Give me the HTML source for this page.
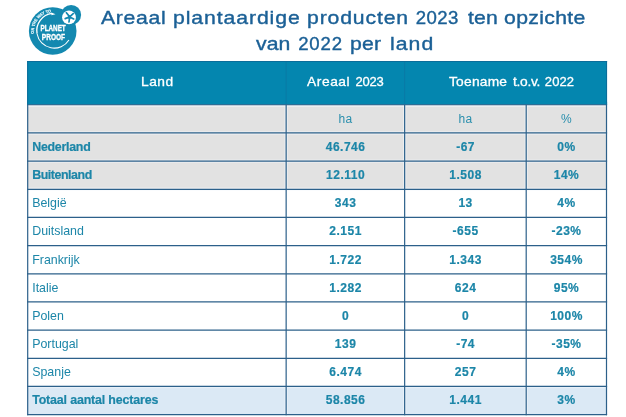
<!DOCTYPE html>
<html lang="nl">
<head>
<meta charset="utf-8">
<title>Areaal plantaardige producten 2023</title>
<style>
html,body{margin:0;padding:0;background:#fff;}
body{width:626px;height:417px;position:relative;overflow:hidden;font-family:"Liberation Sans",sans-serif;}
.abs{position:absolute;}
.t{position:absolute;white-space:nowrap;line-height:1;}
.title{color:#1b6096;font-size:18.6px;-webkit-text-stroke:0.38px #1b6096;}
.hd{color:#fff;font-size:13px;-webkit-text-stroke:0.3px #fff;}
.c{color:#1c86a8;font-size:12px;letter-spacing:0.5px;}
.b{font-weight:bold;-webkit-text-stroke:0.2px #1c86a8;}
.l{color:#1c86a8;font-size:12.4px;}
.sub{font-size:12px;color:#2a8fad;}

</style>
</head>
<body>
<svg class="abs" style="left:0;top:0" width="626" height="417" viewBox="0 0 626 417">
<rect x="27.10" y="61.00" width="580.00" height="43.77" fill="#0486af"/>
<rect x="27.10" y="104.77" width="580.00" height="28.17" fill="#e2e2e2"/>
<rect x="27.10" y="132.94" width="580.00" height="28.17" fill="#e2e2e2"/>
<rect x="27.10" y="161.11" width="580.00" height="28.17" fill="#e2e2e2"/>
<rect x="27.10" y="386.47" width="580.00" height="28.17" fill="#dbe9f5"/>
<g stroke="#f6fafd" stroke-opacity="0.5" stroke-width="3.4" fill="none">
<line x1="27.10" y1="105.37" x2="607.10" y2="105.37"/>
<line x1="27.10" y1="132.94" x2="607.10" y2="132.94"/>
<line x1="27.10" y1="161.11" x2="607.10" y2="161.11"/>
<line x1="27.10" y1="189.28" x2="607.10" y2="189.28"/>
<line x1="27.10" y1="386.47" x2="607.10" y2="386.47"/>
<line x1="286.15" y1="104.77" x2="286.15" y2="189.28"/>
<line x1="286.15" y1="386.47" x2="286.15" y2="414.64"/>
<line x1="404.65" y1="104.77" x2="404.65" y2="189.28"/>
<line x1="404.65" y1="386.47" x2="404.65" y2="414.64"/>
<line x1="526.20" y1="104.77" x2="526.20" y2="189.28"/>
<line x1="526.20" y1="386.47" x2="526.20" y2="414.64"/>
</g>
<rect x="27.10" y="101.77" width="580.00" height="3.00" fill="#0486af"/>
<g stroke="#2c608a" stroke-width="1.20" fill="none">
<line x1="27.10" y1="104.77" x2="607.10" y2="104.77"/>
<line x1="27.10" y1="132.94" x2="607.10" y2="132.94"/>
<line x1="27.10" y1="161.11" x2="607.10" y2="161.11"/>
<line x1="27.10" y1="189.28" x2="607.10" y2="189.28"/>
<line x1="27.10" y1="217.45" x2="607.10" y2="217.45"/>
<line x1="27.10" y1="245.62" x2="607.10" y2="245.62"/>
<line x1="27.10" y1="273.79" x2="607.10" y2="273.79"/>
<line x1="27.10" y1="301.96" x2="607.10" y2="301.96"/>
<line x1="27.10" y1="330.13" x2="607.10" y2="330.13"/>
<line x1="27.10" y1="358.30" x2="607.10" y2="358.30"/>
<line x1="27.10" y1="386.47" x2="607.10" y2="386.47"/>
<line x1="27.10" y1="414.64" x2="607.10" y2="414.64"/>
<line x1="27.70" y1="104.77" x2="27.70" y2="415.24"/>
<line x1="286.15" y1="104.77" x2="286.15" y2="415.24"/>
<line x1="404.65" y1="104.77" x2="404.65" y2="415.24"/>
<line x1="526.20" y1="104.77" x2="526.20" y2="415.24"/>
<line x1="606.50" y1="104.77" x2="606.50" y2="415.24"/>
</g>
<g stroke="#0b6d9a" stroke-width="1" fill="none">
<line x1="27.10" y1="61.50" x2="607.10" y2="61.50"/>
<line x1="27.70" y1="61.00" x2="27.70" y2="104.77"/>
<line x1="606.50" y1="61.00" x2="606.50" y2="104.77"/>
</g>
<g stroke="#0a7aa6" stroke-width="1" fill="none">
<line x1="286.15" y1="62.00" x2="286.15" y2="104.17"/>
<line x1="404.65" y1="62.00" x2="404.65" y2="104.17"/>
</g>
</svg>
<svg class="abs" style="left:0;top:0" width="100" height="60" viewBox="0 0 100 60" font-family="Liberation Sans, sans-serif">
<circle cx="52.7" cy="31" r="23.8" fill="#1489b0"/>
<circle cx="71.1" cy="14.9" r="10" fill="#1489b0"/>
<circle cx="69" cy="17.4" r="6.9" fill="#fff"/>
<g stroke="#1489b0" stroke-width="1.7" stroke-linecap="round" fill="none">
<path d="M69.7 16.9 L66.4 12.7 M69.7 16.9 L73.2 13.6 M69.7 16.9 L73.7 18.9 M69.7 16.9 L69 22 M69.7 16.9 L65.2 18.6"/>
</g>
<circle cx="69.7" cy="16.9" r="1.3" fill="#1489b0"/>
<path d="M52.08 13.43 A17.4 17.4 0 0 0 37.06 33.72" fill="none" stroke="#fff" stroke-width="1.35"/>
<path d="M37.06 33.72 A17.4 17.4 0 0 0 68.96 39.92" fill="none" stroke="#fff" stroke-width="1.05"/>
<path d="M51.4 12.6 L55.5 14.2 L51.4 15.3 Z" fill="#fff"/>
<path id="arcp" d="M34.18 33.60 A18.7 18.7 0 0 1 71.22 28.40" fill="none"/>
<text font-size="4.1" font-weight="bold" fill="#e6f6fb" stroke="#e6f6fb" stroke-width="0.2" textLength="30.3" lengthAdjust="spacingAndGlyphs"><textPath href="#arcp" startOffset="0" textLength="30.3" lengthAdjust="spacingAndGlyphs">ON THE WAY TO</textPath></text>
<g fill="#fff" font-weight="bold" font-size="9.6" stroke="#fff" stroke-width="0.38">
<text transform="translate(40.4,31.1) scale(0.661,1)">PLANET</text>
<text transform="translate(41.8,39.75) scale(0.683,1)">PROOF</text>
</g>
</svg>
<div class="abs" style="left:0;top:0;width:626px;height:60px">
<span class="t title" id="w1" style="left:101.40px;top:8.60px;letter-spacing:0.61px;transform:scaleX(1.14);transform-origin:0 0">Areaal</span>
<span class="t title" id="w2" style="left:173.15px;top:8.60px;letter-spacing:0.80px;transform:scaleX(1.14);transform-origin:0 0">plantaardige</span>
<span class="t title" id="w3" style="left:306.75px;top:8.60px;letter-spacing:0.75px;transform:scaleX(1.14);transform-origin:0 0">producten</span>
<span class="t title" id="w4" style="left:415.64px;top:8.60px;letter-spacing:0.49px">2023</span>
<span class="t title" id="w5" style="left:467.90px;top:8.60px;letter-spacing:0.12px;transform:scaleX(1.14);transform-origin:0 0">ten</span>
<span class="t title" id="w6" style="left:504.25px;top:8.60px;letter-spacing:0.30px;transform:scaleX(1.14);transform-origin:0 0">opzichte</span>
<span class="t title" id="v1" style="left:256.05px;top:34.50px;letter-spacing:0.07px;transform:scaleX(1.14);transform-origin:0 0">van</span>
<span class="t title" id="v2" style="left:298.16px;top:34.50px;letter-spacing:0.82px">2022</span>
<span class="t title" id="v3" style="left:349.75px;top:34.50px;letter-spacing:0.24px;transform:scaleX(1.14);transform-origin:0 0">per</span>
<span class="t title" id="v4" style="left:390.40px;top:34.50px;letter-spacing:0.92px;transform:scaleX(1.14);transform-origin:0 0">land</span>
</div>
<div class="abs" style="left:0;top:61px;width:626px;height:44px">
<span class="t hd" id="h1" style="left:140.80px;top:14.00px;letter-spacing:0.49px;transform:scaleX(1.06);transform-origin:0 0">Land</span>
<span class="t hd" id="h2" style="left:306.80px;top:14.00px;letter-spacing:0.53px;transform:scaleX(1.06);transform-origin:0 0">Areaal</span>
<span class="t hd" id="h3" style="left:355.59px;top:14.00px;letter-spacing:-0.26px">2023</span>
<span class="t hd" id="h4" style="left:448.50px;top:14.00px;letter-spacing:0.21px;transform:scaleX(1.06);transform-origin:0 0">Toename</span>
<span class="t hd" id="h5" style="left:512.60px;top:14.00px;letter-spacing:-0.27px;transform:scaleX(1.06);transform-origin:0 0">t.o.v.</span>
<span class="t hd" id="h6" style="left:544.83px;top:14.00px;letter-spacing:0.09px">2022</span>
</div>
<div class="t c sub" id="r0c0" style="left:295.6px;width:100px;text-align:center;top:112.77px">ha</div>
<div class="t c sub" id="r0c1" style="left:415.6px;width:100px;text-align:center;top:112.77px">ha</div>
<div class="t c sub" id="r0c2" style="left:516.5px;width:100px;text-align:center;top:112.77px">%</div>
<div class="t l b" id="r1l" style="left:32.2px;top:140.94px;letter-spacing:-0.26px">Nederland</div>
<div class="t c b" id="r1c0" style="left:295.6px;width:100px;text-align:center;top:140.94px">46.746</div>
<div class="t c b" id="r1c1" style="left:415.6px;width:100px;text-align:center;top:140.94px">-67</div>
<div class="t c b" id="r1c2" style="left:516.5px;width:100px;text-align:center;top:140.94px">0%</div>
<div class="t l b" id="r2l" style="left:32.2px;top:169.11px;letter-spacing:-0.44px">Buitenland</div>
<div class="t c b" id="r2c0" style="left:295.6px;width:100px;text-align:center;top:169.11px">12.110</div>
<div class="t c b" id="r2c1" style="left:415.6px;width:100px;text-align:center;top:169.11px">1.508</div>
<div class="t c b" id="r2c2" style="left:516.5px;width:100px;text-align:center;top:169.11px">14%</div>
<div class="t l" id="r3l" style="left:32.2px;top:197.28px;letter-spacing:0.00px">België</div>
<div class="t c b" id="r3c0" style="left:295.6px;width:100px;text-align:center;top:197.28px">343</div>
<div class="t c b" id="r3c1" style="left:415.6px;width:100px;text-align:center;top:197.28px">13</div>
<div class="t c b" id="r3c2" style="left:516.5px;width:100px;text-align:center;top:197.28px">4%</div>
<div class="t l" id="r4l" style="left:32.2px;top:225.45px;letter-spacing:0.00px">Duitsland</div>
<div class="t c b" id="r4c0" style="left:295.6px;width:100px;text-align:center;top:225.45px">2.151</div>
<div class="t c b" id="r4c1" style="left:415.6px;width:100px;text-align:center;top:225.45px">-655</div>
<div class="t c b" id="r4c2" style="left:516.5px;width:100px;text-align:center;top:225.45px">-23%</div>
<div class="t l" id="r5l" style="left:32.2px;top:253.62px;letter-spacing:0.00px">Frankrijk</div>
<div class="t c b" id="r5c0" style="left:295.6px;width:100px;text-align:center;top:253.62px">1.722</div>
<div class="t c b" id="r5c1" style="left:415.6px;width:100px;text-align:center;top:253.62px">1.343</div>
<div class="t c b" id="r5c2" style="left:516.5px;width:100px;text-align:center;top:253.62px">354%</div>
<div class="t l" id="r6l" style="left:32.2px;top:281.79px;letter-spacing:0.00px">Italie</div>
<div class="t c b" id="r6c0" style="left:295.6px;width:100px;text-align:center;top:281.79px">1.282</div>
<div class="t c b" id="r6c1" style="left:415.6px;width:100px;text-align:center;top:281.79px">624</div>
<div class="t c b" id="r6c2" style="left:516.5px;width:100px;text-align:center;top:281.79px">95%</div>
<div class="t l" id="r7l" style="left:32.2px;top:309.96px;letter-spacing:0.00px">Polen</div>
<div class="t c b" id="r7c0" style="left:295.6px;width:100px;text-align:center;top:309.96px">0</div>
<div class="t c b" id="r7c1" style="left:415.6px;width:100px;text-align:center;top:309.96px">0</div>
<div class="t c b" id="r7c2" style="left:516.5px;width:100px;text-align:center;top:309.96px">100%</div>
<div class="t l" id="r8l" style="left:32.2px;top:338.13px;letter-spacing:0.00px">Portugal</div>
<div class="t c b" id="r8c0" style="left:295.6px;width:100px;text-align:center;top:338.13px">139</div>
<div class="t c b" id="r8c1" style="left:415.6px;width:100px;text-align:center;top:338.13px">-74</div>
<div class="t c b" id="r8c2" style="left:516.5px;width:100px;text-align:center;top:338.13px">-35%</div>
<div class="t l" id="r9l" style="left:32.2px;top:366.30px;letter-spacing:0.00px">Spanje</div>
<div class="t c b" id="r9c0" style="left:295.6px;width:100px;text-align:center;top:366.30px">6.474</div>
<div class="t c b" id="r9c1" style="left:415.6px;width:100px;text-align:center;top:366.30px">257</div>
<div class="t c b" id="r9c2" style="left:516.5px;width:100px;text-align:center;top:366.30px">4%</div>
<div class="t l b" id="r10l" style="left:32.2px;top:394.47px;letter-spacing:-0.15px">Totaal aantal hectares</div>
<div class="t c b" id="r10c0" style="left:295.6px;width:100px;text-align:center;top:394.47px">58.856</div>
<div class="t c b" id="r10c1" style="left:415.6px;width:100px;text-align:center;top:394.47px">1.441</div>
<div class="t c b" id="r10c2" style="left:516.5px;width:100px;text-align:center;top:394.47px">3%</div>
</body>
</html>
